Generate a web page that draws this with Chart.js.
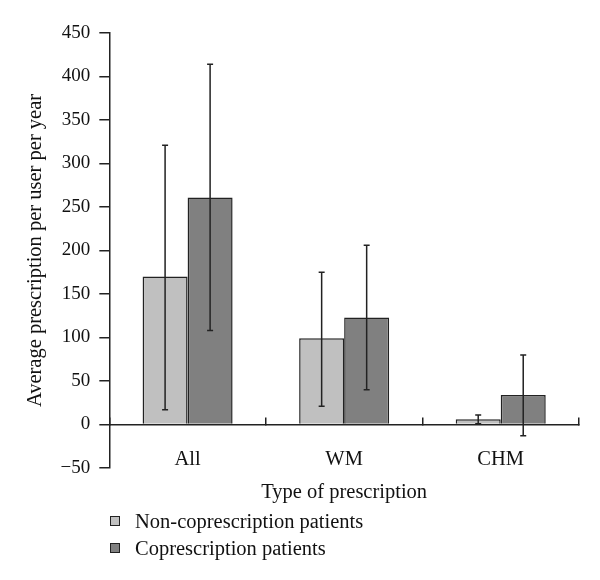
<!DOCTYPE html>
<html>
<head>
<meta charset="utf-8">
<script src="https://cdn.jsdelivr.net/npm/chart.js@4"></script>
<style>
  body { margin: 0; background: #fff; }
  #wrap { position: relative; width: 600px; height: 580px; }
  #legend { position: absolute; left: 110px; top: 508px; font-family: "Liberation Serif", serif; font-size: 20.5px; color: #111; }
  #legend .item { height: 27px; line-height: 27px; white-space: nowrap; }
  #legend .box { display: inline-block; width: 8px; height: 8px; border: 1px solid #222; margin-right: 15px; vertical-align: 2px; }
</style>
</head>
<body>
<div id="wrap">
  <canvas id="myChart" width="600" height="580"></canvas>
  <div id="legend"></div>
</div>
<script>
var categories = ['All', 'WM', 'CHM'];
var seriesNames = ['Non-coprescription patients', 'Coprescription patients'];
var nonMean = [170, 99, 6];
var nonLow = [17, 21, 1];
var nonHigh = [321, 175, 11];
var coMean = [261, 123, 34];
var coLow = [108, 40, -13];
var coHigh = [414, 206, 80];
var yTicks = { min: -50, max: 450, step: 50 };

var errorBars = {
    id: 'errorBars',
    afterDatasetsDraw: function (chart) {
        var ctx = chart.ctx;
        var yScale = chart.scales.y;
        chart.data.datasets.forEach(function (ds, i) {
            var meta = chart.getDatasetMeta(i);
            meta.data.forEach(function (bar, j) {
                var yl = yScale.getPixelForValue(ds.errLow[j]);
                var yh = yScale.getPixelForValue(ds.errHigh[j]);
                ctx.save();
                ctx.strokeStyle = '#222';
                ctx.lineWidth = 1.5;
                ctx.beginPath();
                ctx.moveTo(bar.x, yl); ctx.lineTo(bar.x, yh);
                ctx.moveTo(bar.x - 3, yl); ctx.lineTo(bar.x + 3, yl);
                ctx.moveTo(bar.x - 3, yh); ctx.lineTo(bar.x + 3, yh);
                ctx.stroke();
                ctx.restore();
            });
        });
    }
};

document.addEventListener("DOMContentLoaded", function () {
    var tickFont = { family: '"Liberation Serif", serif', size: 19 };
    var textFont = { family: '"Liberation Serif", serif', size: 20.5 };
    var ctx = document.getElementById('myChart').getContext('2d');
    var chart = new Chart(ctx, {
        type: 'bar',
        data: {
            labels: categories,
            datasets: [{
                label: seriesNames[0],
                data: nonMean,
                errLow: nonLow,
                errHigh: nonHigh,
                backgroundColor: '#c0c0c0',
                borderColor: '#222',
                borderWidth: 1.5,
                categoryPercentage: 0.575,
                barPercentage: 1
            }, {
                label: seriesNames[1],
                data: coMean,
                errLow: coLow,
                errHigh: coHigh,
                backgroundColor: '#808080',
                borderColor: '#222',
                borderWidth: 1.5,
                categoryPercentage: 0.575,
                barPercentage: 1
            }]
        },
        options: {
            responsive: false,
            animation: false,
            layout: { padding: { top: 33, right: 21, bottom: 112, left: 23 } },
            plugins: { legend: { display: false }, tooltip: { enabled: false } },
            scales: {
                x: {
                    position: { y: 0 },
                    grid: { display: true, offset: true, drawOnChartArea: false, drawTicks: true, tickLength: -8, color: '#222', lineWidth: 1.5 },
                    border: { display: true, color: '#222', width: 1.5 },
                    ticks: { color: '#111', font: textFont, padding: 31 },
                    title: { display: true, text: 'Type of prescription', color: '#111', font: textFont, padding: { top: -23, bottom: 0 } }
                },
                y: {
                    min: yTicks.min,
                    max: yTicks.max,
                    grid: { display: true, drawOnChartArea: false, drawTicks: true, tickLength: 10, color: '#222', lineWidth: 1.5 },
                    border: { display: true, color: '#222', width: 1.5 },
                    ticks: {
                        stepSize: yTicks.step,
                        color: '#111',
                        font: tickFont,
                        padding: 9,
                        callback: function (v) { return String(v).replace('-', '\u2212'); }
                    },
                    title: { display: true, text: 'Average prescription per user per year', color: '#111', font: textFont, padding: { top: 0, bottom: 4 } }
                }
            }
        },
        plugins: [errorBars]
    });

    var legend = document.getElementById('legend');
    chart.data.datasets.forEach(function (ds) {
        var item = document.createElement('div');
        item.className = 'item';
        var box = document.createElement('span');
        box.className = 'box';
        box.style.background = ds.backgroundColor;
        item.appendChild(box);
        item.appendChild(document.createTextNode(ds.label));
        legend.appendChild(item);
    });
});
</script>
</body>
</html>
